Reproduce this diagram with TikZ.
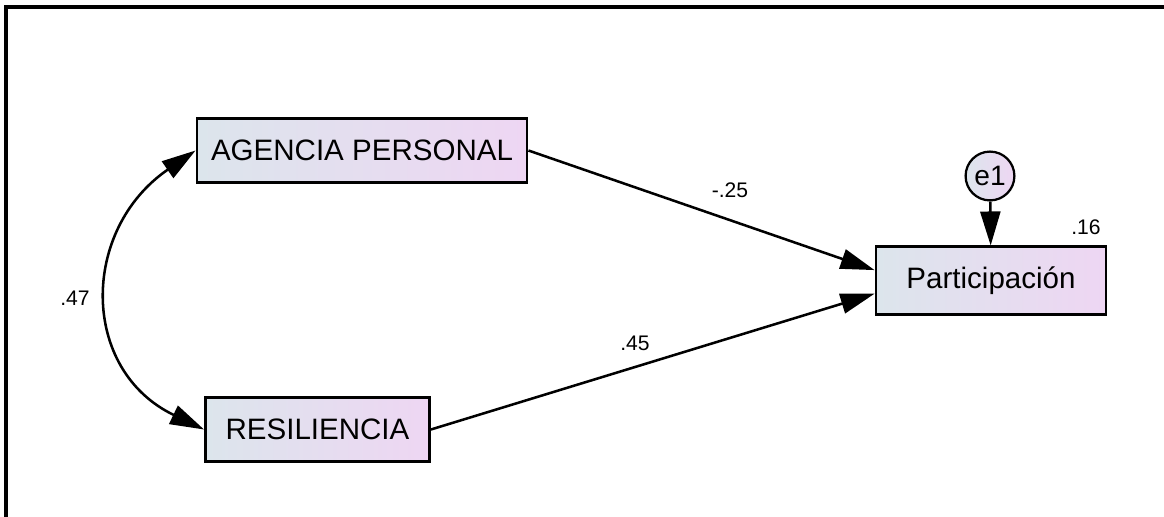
\documentclass[tikz,border=0pt]{standalone}
\usepackage{fontspec}
\setmainfont{Liberation Sans}
\usepackage{xcolor}
\usetikzlibrary{arrows.meta,positioning,shapes.geometric,calc}

\definecolor{boxleft}{RGB}{220,229,236}
\definecolor{boxright}{RGB}{238,214,243}

\begin{document}
\begin{tikzpicture}[
  x=0.025cm, y=-0.025cm,
  var/.style={rectangle, draw, line width=2pt, left color=boxleft,
    right color=boxright, minimum height=1.6cm, inner sep=0pt,
    font=\fontsize{21}{25}\selectfont},
  err/.style={circle, draw, line width=1.6pt, left color=boxleft,
    right color=boxright, minimum size=1.22cm, inner sep=0pt,
    font=\fontsize{20}{24}\selectfont},
  coef/.style={font=\fontsize{15}{18}\selectfont},
  path/.style={line width=1.8pt, -{Triangle[length=0.85cm,width=0.5cm]}},
  >=Stealth
]
  \useasboundingbox (0,0) rectangle (1164,517);
  \draw[line width=2.4pt] (6,517) -- (6,7) -- (1164,7);

  \node[var, minimum width=8.25cm] (agency) at (362,150.5) {AGENCIA PERSONAL};
  \node[var, minimum width=5.6cm] (resil) at (317.5,429.5) {RESILIENCIA};
  \node[var, minimum width=5.75cm, minimum height=1.68cm] (partic) at (991,280.5)
    {Participación};
  \node[err] (e1) at (990,176) {e1};

  \draw[path] (agency.east) -- ([yshift=0.26cm]partic.west);
  \draw[path] (resil.east) -- ([yshift=-0.33cm]partic.west);
  \draw[path] (e1) -- (partic);
  \draw[line width=1.8pt, {Triangle[length=0.85cm,width=0.5cm]}-{Triangle[length=0.85cm,width=0.5cm]}]
    (agency.west) .. controls (80,230) and (80,370) .. (resil.west);

  \node[coef] (c47) at (75,298) {.47};
  \node[coef] (c25) at (730,190) {-.25};
  \node[coef] (c45) at (635,343) {.45};
  \node[coef] (r16) at (1086,227) {.16};
\end{tikzpicture}
\end{document}
